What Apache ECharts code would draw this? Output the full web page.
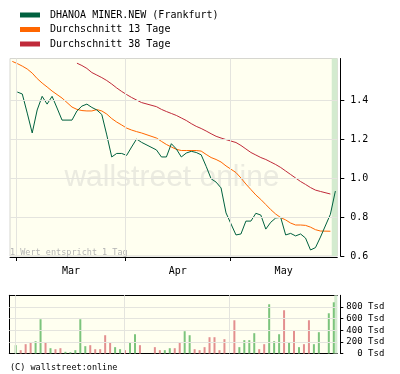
<!DOCTYPE html>
<html><head><meta charset="utf-8">
<script src="https://cdn.jsdelivr.net/npm/echarts@6/dist/echarts.min.js"></script>
<style>html,body{margin:0;padding:0;background:#fff}#c{width:400px;height:374px}</style>
</head><body><div id="c"></div>
<script>
// Trading-day slots (weekdays, holidays kept as empty slots). First slot = Feb 28.
const dates = [
 '2007-02-28',
 '2007-03-01','2007-03-02','2007-03-05','2007-03-06','2007-03-07','2007-03-08','2007-03-09','2007-03-12','2007-03-13','2007-03-14',
 '2007-03-15','2007-03-16','2007-03-19','2007-03-20','2007-03-21','2007-03-22','2007-03-23','2007-03-26','2007-03-27','2007-03-28',
 '2007-03-29','2007-03-30','2007-04-02','2007-04-03','2007-04-04','2007-04-05','2007-04-06','2007-04-09','2007-04-10','2007-04-11',
 '2007-04-12','2007-04-13','2007-04-16','2007-04-17','2007-04-18','2007-04-19','2007-04-20','2007-04-23','2007-04-24','2007-04-25',
 '2007-04-26','2007-04-27','2007-04-30','2007-05-01','2007-05-02','2007-05-03','2007-05-04','2007-05-07','2007-05-08','2007-05-09',
 '2007-05-10','2007-05-11','2007-05-14','2007-05-15','2007-05-16','2007-05-17','2007-05-18','2007-05-21','2007-05-22','2007-05-23',
 '2007-05-24','2007-05-25','2007-05-28','2007-05-29','2007-05-30'
];
const price = [null,
 1.441,1.431,1.333,1.231,1.349,1.419,1.379,1.419,1.359,1.297,
 1.297,1.297,1.344,1.369,1.379,1.362,1.349,1.326,1.221,1.108,
 1.126,1.126,1.116,1.159,1.200,1.183,null,null,1.144,1.108,
 1.108,1.176,1.149,1.108,1.128,1.137,1.131,1.119,1.060,0.996,
 0.979,0.949,0.821,null,0.708,0.713,0.779,0.779,0.819,0.810,
 0.738,0.773,0.795,0.798,0.708,0.716,0.703,0.713,0.692,0.631,
 0.643,0.697,null,0.814,0.933];
const ma13 = [1.598,
 1.587,1.574,1.559,1.538,1.510,1.487,1.467,1.446,1.428,1.410,
 1.387,1.364,1.352,1.346,1.344,1.344,1.351,1.344,1.328,1.305,
 1.287,1.272,1.256,1.246,1.238,1.231,null,null,1.205,1.188,
 1.172,1.159,1.147,1.141,1.141,1.141,1.141,1.138,1.121,1.105,
 1.095,1.082,1.062,null,1.028,1.000,0.969,0.941,0.913,0.890,
 0.864,0.838,0.815,0.797,0.785,0.769,0.759,0.759,0.757,0.748,
 0.735,0.728,null,0.727,null];
const ma38 = [null,
 null,null,null,null,null,null,null,null,null,null,
 null,null,1.589,1.577,1.562,1.541,1.528,1.515,1.500,1.482,
 1.462,1.444,1.428,1.413,1.400,1.387,null,null,1.366,1.352,
 1.341,1.331,1.321,1.308,1.295,1.279,1.265,1.254,1.241,1.227,
 1.214,1.205,1.197,null,1.182,1.167,1.149,1.131,1.118,1.105,
 1.095,1.082,1.069,1.054,1.036,1.018,1.000,0.982,0.967,0.951,
 0.938,0.931,null,0.918,null];
const volume = [null,
 143,57,160,194,211,589,194,91,74,91,
 29,23,57,589,126,143,74,74,314,183,
 109,74,57,194,331,143,null,null,109,57,
 57,91,91,183,383,314,74,57,109,280,
 280,57,246,null,571,109,229,229,349,74,
 160,846,211,331,743,194,400,109,160,571,
 160,366,null,691,880];
const monthStarts = ['2007-03-01','2007-04-02','2007-05-01'];
const monthLabels = ['Mar','Apr','May'];
const priceTicks = [0.6,0.8,1.0,1.2,1.4];
const volumeTicks = [0,200,400,600,800];
const seriesNames = ['DHANOA MINER.NEW (Frankfurt)','Durchschnitt 13 Tage','Durchschnitt 38 Tage'];

const slot = d => dates.indexOf(d) - 1;
function pts(arr){ const out=[]; arr.forEach((v,k)=>{ if(v!=null) out.push([k-1, v]); }); return out; }

const MONO = 'DejaVu Sans Mono';
const XMIN = -1.47, XMAX = 64.39;
const VMIN = -1.29, VMAX = 64.71;
const tickPos = monthStarts.map(d => slot(d) - 0.2);
const labelPos = tickPos.map((t,k) => (t + (k+1 < tickPos.length ? tickPos[k+1] : XMAX)) / 2);
const lastSlot = slot(dates[dates.length-1]);

// volume bars coloured by price direction
const volData = [];
let prev = null;
volume.forEach((v,k)=>{
  const p = price[k];
  if (v != null) {
    const up = prev == null || p >= prev;
    volData.push({value:[k-1, v], itemStyle:{color: up ? '#7cc47c' : '#e38f8f'}});
  }
  if (p != null) prev = p;
});

const gridLine = {color:'#e4e4de', width:1, type:'solid'};
const chart = echarts.init(document.getElementById('c'), null, {renderer:'canvas'});
chart.setOption({
  animation:false,
  backgroundColor:'#fff',
  textStyle:{fontFamily:MONO},
  legend:{orient:'vertical', left:20, top:9, padding:0, itemWidth:20, itemHeight:5, itemGap:2.5, icon:'rect',
    selectedMode:false, data:seriesNames,
    textStyle:{fontFamily:MONO, fontSize:10, color:'#000', lineHeight:12, padding:[0,0,0,5]}},
  grid:[
    {left:10, right:62.7, top:58.5, bottom:118, show:true, backgroundColor:'#fffff0', borderColor:'#d6d6d0', borderWidth:1},
    {left:9.3, right:62.7, top:295.3, bottom:20.5, show:true, backgroundColor:'#fffff0', borderWidth:0}
  ],
  xAxis:[
    {type:'value', gridIndex:0, min:XMIN, max:XMAX, offset:1,
     axisLine:{show:true, onZero:false, lineStyle:{color:'#000', width:1}},
     axisTick:{show:true, customValues:tickPos, length:4, lineStyle:{color:'#000'}},
     axisLabel:{customValues:labelPos, margin:9, color:'#000', fontFamily:MONO, fontSize:10,
       formatter:v=>{const k=labelPos.findIndex(p=>Math.abs(p-v)<0.01); return k>=0?monthLabels[k]:'';}},
     splitLine:{show:false}},
    {type:'value', gridIndex:1, min:VMIN, max:VMAX, position:'bottom',
     axisLine:{show:true, onZero:false, lineStyle:{color:'#000', width:1}},
     axisTick:{show:false}, axisLabel:{show:false}, splitLine:{show:false}},
    {type:'value', gridIndex:1, min:VMIN, max:VMAX, position:'top',
     axisLine:{show:true, onZero:false, lineStyle:{color:'#000', width:1}},
     axisTick:{show:false}, axisLabel:{show:false}, splitLine:{show:false}}
  ],
  yAxis:[
    {type:'value', gridIndex:0, position:'right', min:0.6, max:1.613, offset:3,
     axisLine:{show:true, onZero:false, lineStyle:{color:'#000', width:1}},
     axisTick:{show:true, customValues:priceTicks, length:4, lineStyle:{color:'#000'}},
     axisLabel:{customValues:priceTicks, margin:10, color:'#000', fontFamily:MONO, fontSize:10, formatter:v=>v.toFixed(1)},
     splitLine:{show:false}},
    {type:'value', gridIndex:1, position:'right', min:0, max:1000, offset:3,
     axisLine:{show:true, onZero:false, lineStyle:{color:'#000', width:1}},
     axisTick:{show:true, customValues:volumeTicks, length:3, lineStyle:{color:'#000'}},
     axisLabel:{customValues:volumeTicks, margin:44, align:'right', color:'#000', fontFamily:MONO, fontSize:9, formatter:v=>v+' Tsd'},
     splitLine:{show:false}},
    {type:'value', gridIndex:1, position:'left', min:0, max:1000,
     axisLine:{show:true, onZero:false, lineStyle:{color:'#000', width:1}},
     axisTick:{show:false}, axisLabel:{show:false}, splitLine:{show:false}}
  ],
  graphic:[
    {type:'text', x:172, y:178, z:1, silent:true, style:{text:'wallstreet online', align:'center', verticalAlign:'middle',
      font:'30px "Liberation Sans"', fill:'#ebebe0'}},
    {type:'text', left:10, top:248, z:5, style:{text:'1 Wert entspricht 1 Tag', font:'8.5px "DejaVu Sans Mono"', fill:'#b4b4b4'}},
    {type:'text', left:10, top:363, style:{text:'(C) wallstreet:online', font:'8.5px "DejaVu Sans Mono"', fill:'#000'}}
  ],
  series:[
    {type:'line', name:'_grid0', xAxisIndex:0, yAxisIndex:0, data:[], z:1, silent:true,
     markLine:{silent:true, symbol:'none', label:{show:false}, lineStyle:gridLine, animation:false,
       data:[...tickPos.map(p=>({xAxis:p})), ...priceTicks.slice(1).map(v=>({yAxis:v}))]},
     markArea:{silent:true, itemStyle:{color:'#d3ebcf'}, data:[[{xAxis:lastSlot-0.73},{xAxis:XMAX}]]}},
    {type:'line', name:'_grid1', xAxisIndex:1, yAxisIndex:1, data:[], z:1, silent:true,
     markLine:{silent:true, symbol:'none', label:{show:false}, lineStyle:gridLine, animation:false,
       data:[...monthStarts.map(d=>({xAxis:slot(d)-0.1})), ...volumeTicks.slice(1).map(v=>({yAxis:v}))]},
     markArea:{silent:true, itemStyle:{color:'#d3ebcf'}, data:[[{xAxis:lastSlot+0.1},{xAxis:VMAX}]]}},
    {type:'line', name:seriesNames[2], xAxisIndex:0, yAxisIndex:0, data:pts(ma38), color:'#c02a3a',
     showSymbol:false, lineStyle:{width:1, color:'#c02a3a'}, z:3},
    {type:'line', name:seriesNames[1], xAxisIndex:0, yAxisIndex:0, data:pts(ma13), color:'#ff6600',
     showSymbol:false, lineStyle:{width:1, color:'#ff6600'}, z:3},
    {type:'line', name:seriesNames[0], xAxisIndex:0, yAxisIndex:0, data:pts(price), color:'#00613f',
     showSymbol:false, lineStyle:{width:1, color:'#00613f'}, z:4},
    {type:'bar', name:'Volumen', xAxisIndex:1, yAxisIndex:1, data:volData, barWidth:2, z:3}
  ]
});
</script></body></html>
